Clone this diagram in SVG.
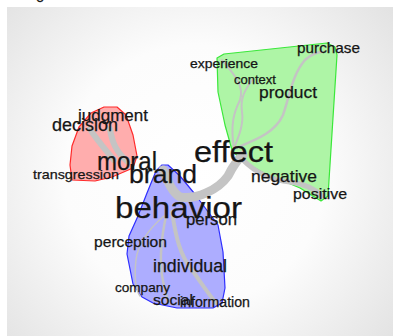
<svg xmlns="http://www.w3.org/2000/svg" width="393" height="336" viewBox="0 0 393 336">
<defs>
<radialGradient id="bg" cx="195" cy="175" r="260" gradientUnits="userSpaceOnUse">
<stop offset="0" stop-color="#ffffff"/>
<stop offset="0.5" stop-color="#fcfcfc"/>
<stop offset="1" stop-color="#e2e2e2"/>
</radialGradient>
<style>
text{font-family:"Liberation Sans",Arial,sans-serif;fill:#151515;stroke:#151515;stroke-width:0.25;}
.hull{stroke-width:1.2;stroke-linejoin:round;}
.e{fill:none;stroke:#c4c4c4;stroke-linecap:round;}
</style>
</defs>
<rect x="0" y="0" width="393" height="336" fill="#ffffff"/>
<rect x="7" y="7" width="386" height="329" fill="url(#bg)"/>
<text x="36" y="-1" font-size="15">g</text>

<g id="hulls">
<polygon id="hull-green" class="hull" fill="#aef5a6" stroke="#3be83b" points="217,58 224,54 327,43 335,47 337,55 328,196 321,201 300,188 262,172 242,161 232,150 225,125 218,92"/>
<polygon id="hull-red" class="hull" fill="#ffadad" stroke="#ff2a2a" points="72,180 70,165 72,146 79,127 91,113 104,107 117,107 126,115 133,135 137,156 133,168 112,177 95,181"/>
<polygon id="hull-blue" class="hull" fill="#adadff" stroke="#2e2eff" points="162,165 168,165 180,176 194,193 218,225 223,252 225,288 222,303 213,308 177,308 153,303 142,297 133,284 127,254 129,236 138,216 147,193 156,171"/>
</g>

<g id="connectors">
<path class="e" stroke-width="9" d="M163,170 C168,182 172,192 180,197 C196,200 218,190 228,176 C233,166 238,159 243,155"/>
<path class="e" stroke-width="6" d="M90,129 C96,139 104,148 114,160"/>
<path class="e" stroke-width="6" d="M110,129 C112,142 116,152 128,162"/>
<path class="e" stroke-width="5" d="M243,160 C255,172 270,180 290,182 C305,184 315,189 322,196"/>
<path class="e" stroke-width="2.5" d="M236,148 C255,140 275,133 283,115 C290,95 292,75 305,60 C312,54 318,52 322,52"/>
<path class="e" stroke-width="2" d="M222,60 C232,72 245,85 240,100 C234,112 230,125 234,148"/>
<path class="e" stroke-width="2" d="M252,80 C245,90 240,98 242,112 C244,125 238,138 234,148"/>
<path class="e" stroke-width="4" d="M172,212 C176,238 180,255 192,270 C202,284 210,296 216,303"/>
<path class="e" stroke-width="2.5" d="M166,216 C162,235 159,255 162,275 C164,288 167,296 168,302"/>
<path class="e" stroke-width="1.5" d="M164,216 C150,228 138,242 136,260 C134,278 136,290 140,296"/>
</g>

<g id="n-purchase"><text x="297" y="53" font-size="14.5" textLength="63" lengthAdjust="spacingAndGlyphs">purchase</text></g>
<g id="n-experience"><text x="190" y="67.5" font-size="12" textLength="68" lengthAdjust="spacingAndGlyphs">experience</text></g>
<g id="n-context"><text x="234" y="84" font-size="12" textLength="42" lengthAdjust="spacingAndGlyphs">context</text></g>
<g id="n-product"><text x="259" y="98" font-size="17" textLength="58" lengthAdjust="spacingAndGlyphs">product</text></g>
<g id="n-effect"><text x="194" y="162" font-size="29" textLength="79" lengthAdjust="spacingAndGlyphs">effect</text></g>
<g id="n-negative"><text x="251" y="181.5" font-size="16.5" textLength="66" lengthAdjust="spacingAndGlyphs">negative</text></g>
<g id="n-positive"><text x="293" y="199" font-size="15.5" textLength="54" lengthAdjust="spacingAndGlyphs">positive</text></g>
<g id="n-judgment"><text x="78" y="120.5" font-size="17" textLength="70" lengthAdjust="spacingAndGlyphs">judgment</text></g>
<g id="n-decision"><text x="52" y="130.5" font-size="18" textLength="66" lengthAdjust="spacingAndGlyphs">decision</text></g>
<g id="n-moral"><text x="97" y="170" font-size="25" textLength="60" lengthAdjust="spacingAndGlyphs">moral</text></g>
<g id="n-brand"><text x="129" y="182.5" font-size="26" textLength="68" lengthAdjust="spacingAndGlyphs">brand</text></g>
<g id="n-transgression"><text x="33" y="179" font-size="13" textLength="86" lengthAdjust="spacingAndGlyphs">transgression</text></g>
<g id="n-behavior"><text x="115" y="217.5" font-size="30" textLength="127" lengthAdjust="spacingAndGlyphs">behavior</text></g>
<g id="n-person"><text x="186" y="225" font-size="16" textLength="51" lengthAdjust="spacingAndGlyphs">person</text></g>
<g id="n-perception"><text x="94" y="246.5" font-size="15" textLength="73" lengthAdjust="spacingAndGlyphs">perception</text></g>
<g id="n-individual"><text x="153" y="271.5" font-size="17.5" textLength="74" lengthAdjust="spacingAndGlyphs">individual</text></g>
<g id="n-company"><text x="115" y="291.5" font-size="13" textLength="55" lengthAdjust="spacingAndGlyphs">company</text></g>
<g id="n-social"><text x="153" y="305" font-size="15.5" textLength="40" lengthAdjust="spacingAndGlyphs">social</text></g>
<g id="n-information"><text x="180" y="306.5" font-size="14" textLength="70" lengthAdjust="spacingAndGlyphs">information</text></g>
</svg>
